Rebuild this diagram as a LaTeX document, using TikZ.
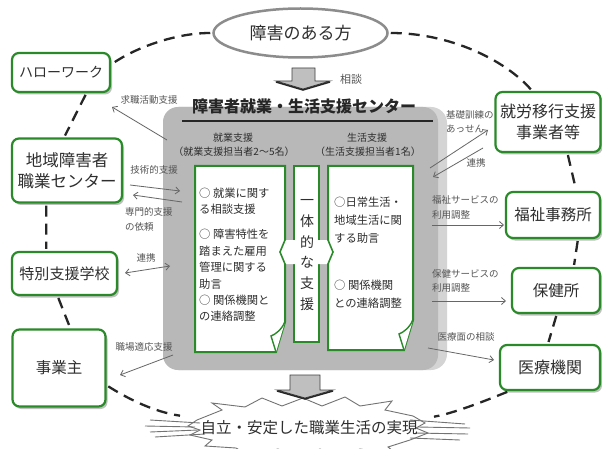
\documentclass[tikz,border=0pt]{standalone}
\usepackage{fontspec}
\setmainfont{Noto Sans CJK JP}
\usetikzlibrary{shapes.geometric,arrows.meta,shadows}
\definecolor{gbox}{HTML}{2A8A2A}
\definecolor{txt}{HTML}{2E2E2E}
\definecolor{lbl}{HTML}{555555}
\definecolor{panel}{HTML}{B8B8B8}
\definecolor{panellight}{HTML}{D4D4D4}
\definecolor{arr}{HTML}{666666}
\definecolor{ringc}{HTML}{8C8C8C}
\begin{document}
\begin{tikzpicture}[x=1pt,y=-1pt,
  orgbox/.style={draw=gbox,line width=2.2pt,rounded corners=7pt,fill=white,text=txt,align=center,inner sep=0pt,
    drop shadow={shadow xshift=2pt,shadow yshift=-2.5pt,fill=black!50,opacity=.5}},
  ring/.style={draw=black!85,line width=2.3pt,dash pattern=on 11pt off 7pt,shorten <=2pt,shorten >=2pt},
  flow/.style={draw=arr,line width=0.8pt,-{Straight Barb[length=4pt,width=7pt]}},
  flowtwo/.style={draw=arr,line width=0.8pt,{Straight Barb[length=4pt,width=7pt]}-{Straight Barb[length=4pt,width=7pt]}},
  lab/.style={text=lbl,font=\fontsize{9.5}{14.5}\selectfont,inner sep=0pt,align=left},
  head/.style={text=txt,font=\fontsize{10}{12}\selectfont,inner sep=0pt},
  inbox/.style={draw=gbox,line width=2pt,fill=white},
  flap/.style={draw=gbox,line width=1.4pt,fill=white},
  itemtxt/.style={text=txt,inner sep=0pt,align=left,anchor=west},
  blockarrow/.style={fill=black!25,draw=black!75,line width=0.8pt},
]
\useasboundingbox (0,0) rectangle (602,449);
\fill[white] (0,0) rectangle (602,449);

% central panel
\fill[panellight,rounded corners=16pt] (163,107) rectangle (447,370);
\fill[panel,rounded corners=15pt] (163,107) rectangle (438,370);

% title
\node[font=\fontsize{16}{18}\selectfont\bfseries,text=black!85,inner sep=0pt] (title) at (304,106.5) {障害者就業・生活支援センター};
\draw[line width=1.4pt,black!85] (182,121) -- (433,121);

% column headings
\node[head] (h1) at (233,138) {就業支援};
\node[head] (h1b) at (234,152) {（就業支援担当者2～5名）};
\node[head] (h2) at (367,138) {生活支援};
\node[head] (h2b) at (368,152) {（生活支援担当者1名）};

% left white box with folded corner
\draw[inbox] (195,166) -- (285,166) -- (285,322) -- (276,352) -- (195,352) -- cycle;
\draw[flap] (285,322) .. controls (281,330) and (276,334) .. (271,336) -- (276,352);
% right white box
\draw[inbox] (328,166) -- (413,166) -- (413,320) -- (404,350) -- (328,350) -- cycle;
\draw[flap] (413,320) .. controls (409,328) and (404,332) .. (399,334) -- (404,350);
% middle box with double arrow heads
\draw[inbox,line width=1.6pt] (294,166) rectangle (319,342);
\fill[white] (285,240) -- (280,252) -- (285,264) -- (328,264) -- (333,252) -- (328,240) -- cycle;
\draw[gbox,line width=1.6pt] (285,238) -- (285,240) -- (280,252) -- (285,264) -- (285,266);
\draw[gbox,line width=1.6pt] (328,238) -- (328,240) -- (333,252) -- (328,264) -- (328,266);
\node[text=txt,font=\fontsize{14}{20.8}\selectfont,align=center,inner sep=0pt] (ittai) at (307,255) {一\\体\\的\\な\\支\\援};

% box texts
\node[itemtxt,font=\fontsize{11.3}{16.5}\selectfont] (p1) at (199,201) {○ 就業に関す\\る相談支援};
\node[itemtxt,font=\fontsize{11.3}{16.5}\selectfont] (p2) at (199,259) {○ 障害特性を\\踏まえた雇用\\管理に関する\\助言};
\node[itemtxt,font=\fontsize{11.3}{16.5}\selectfont] (p3) at (199,308) {○ 関係機関と\\の連絡調整};
\node[itemtxt,font=\fontsize{11.3}{18}\selectfont] (q1) at (334,220) {○日常生活・\\地域生活に関\\する助言};
\node[itemtxt,font=\fontsize{11.3}{18}\selectfont] (q2) at (334,294) {○ 関係機関\\との連絡調整};

% outer organisations
\node[orgbox,minimum width=98pt,minimum height=39pt,font=\fontsize{14}{16}\selectfont] (hw) at (61,72.5) {ハローワーク};
\node[orgbox,minimum width=110pt,minimum height=64pt,font=\fontsize{16.5}{21}\selectfont] (chiiki) at (67,170.5) {地域障害者\\職業センター};
\node[orgbox,minimum width=105pt,minimum height=43pt,font=\fontsize{15}{17}\selectfont] (tokube) at (64.5,273.5) {特別支援学校};
\node[orgbox,minimum width=93pt,minimum height=77pt,font=\fontsize{15.5}{17}\selectfont] (jigyo) at (59,368) {事業主};
\node[orgbox,minimum width=105pt,minimum height=60pt,font=\fontsize{16}{21}\selectfont] (shuro) at (548,122) {就労移行支援\\事業者等};
\node[orgbox,minimum width=94pt,minimum height=46pt,font=\fontsize{15.5}{17}\selectfont] (fukushi) at (553,215) {福祉事務所};
\node[orgbox,minimum width=88pt,minimum height=45pt,font=\fontsize{15.5}{17}\selectfont] (hoken) at (556,290.5) {保健所};
\node[orgbox,minimum width=100pt,minimum height=45pt,font=\fontsize{16}{17}\selectfont] (iryo) at (550,367.5) {医療機関};

% top person ellipse
\node[ellipse,draw=ringc,line width=2.5pt,fill=white,minimum width=174pt,minimum height=49pt,inner sep=0pt,text=txt,font=\fontsize{17}{19}\selectfont] (top) at (300.5,33) {障害のある方};

% burst
\draw[draw=black!55,line width=0.9pt,fill=white]
  (197,420) -- (222,410) -- (212,403) -- (245,407) -- (262,398) -- (282,406) -- (303,398) -- (322,406) -- (345,397) -- (360,406) -- (392,401) -- (385,410) -- (413,416)
  -- (425,423) -- (416,428) -- (428,433)
  -- (410,440) -- (388,447) -- (398,455) -- (360,449) -- (340,458) -- (320,449) -- (300,458) -- (278,449) -- (250,456) -- (236,448) -- (205,446) -- (212,440)
  -- (190,435) -- (200,430) -- (188,426) -- cycle;
\draw[black!55,line width=0.9pt] (150,420) -- (200,423) (145,426) -- (195,427) (150,432) -- (198,430) (155,437) -- (205,434);
\draw[black!55,line width=0.9pt] (410,420) -- (465,424) (418,427) -- (470,428) (415,433) -- (468,434) (410,438) -- (460,440);
\node[text=txt,font=\fontsize{15.5}{17}\selectfont,inner sep=0pt] (goal) at (309,428) {自立・安定した職業生活の実現};
\coordinate (burstL) at (182,416);
\coordinate (burstR) at (432,417);

% block arrows
\filldraw[blockarrow] (292,68) -- (315,68) -- (315,81) -- (330,81) -- (303,89) -- (276,81) -- (292,81) -- cycle;
\draw[black!85,line width=1.5pt] (276,82) -- (303,90) -- (330,82);
\node[lab,font=\fontsize{11}{13}\selectfont] (sodan) at (351,79) {相談};
\filldraw[blockarrow] (290,375) -- (320,375) -- (320,390) -- (333,390) -- (305,398) -- (277,390) -- (290,390) -- cycle;
\draw[black!85,line width=1.5pt] (277,391) -- (305,399) -- (333,391);

% dashed ring
\draw[ring] (top.west) .. controls (175,33) and (135,48) .. (hw.9);
\draw[ring] (hw.-39) -- (chiiki.95);
\draw[ring] (chiiki.-122) -- (tokube.129);
\draw[ring] (tokube.-107) -- (jigyo.74);
\draw[ring] (jigyo.-20) .. controls (130,400) and (155,412) .. (burstL);
\draw[ring] (top.east) .. controls (450,33) and (505,60) .. (shuro.117);
\draw[ring] (shuro.-58) -- (fukushi.46);
\draw[ring] (fukushi.-44) -- (hoken.53);
\draw[ring] (hoken.-88) -- (iryo.95);
\draw[ring] (iryo.-150) .. controls (475,405) and (450,414) .. (burstR);

% arrow end points
\coordinate (a1s) at (167,140); \coordinate (a1e) at (112,107);
\coordinate (a2s) at (130,185); \coordinate (a2e) at (180,191);
\coordinate (a3s) at (182,202); \coordinate (a3e) at (133,195);
\coordinate (a4s) at (125,273); \coordinate (a4e) at (170,266);
\coordinate (a5s) at (173,355); \coordinate (a5e) at (120,375);
\coordinate (a6s) at (430,168); \coordinate (a6e) at (488,130);
\coordinate (a7s) at (483,148); \coordinate (a7e) at (433,177);
\coordinate (a8s) at (432,225); \coordinate (a8e) at (504,225);
\coordinate (a9s) at (432,301); \coordinate (a9e) at (506,301);
\coordinate (a10s) at (428,348); \coordinate (a10e) at (494,360);
\draw[flow] (a1s) -- (a1e);
\draw[flow] (a2s) -- (a2e);
\draw[flow] (a3s) -- (a3e);
\draw[flowtwo] (a4s) -- (a4e);
\draw[flow] (a5s) -- (a5e);
\draw[flow] (a6s) -- (a6e);
\draw[flow] (a7s) -- (a7e);
\draw[flow] (a8s) -- (a8e);
\draw[flow] (a9s) -- (a9e);
\draw[flow] (a10s) -- (a10e);

% arrow labels
\node[lab] (l1) at (149,100) {求職活動支援};
\node[lab] (l2) at (154,170) {技術的支援};
\node[lab,anchor=west] (l3) at (125,219.5) {専門的支援\\の依頼};
\node[lab] (l4) at (146,258) {連携};
\node[lab] (l5) at (144,347) {職場適応支援};
\node[lab,anchor=west] (l6) at (446,121.5) {基礎訓練の\\あっせん};
\node[lab] (l7) at (476,163) {連携};
\node[lab,anchor=west] (l8) at (432,207.5) {福祉サービスの\\利用調整};
\node[lab,anchor=west] (l9) at (432,281) {保健サービスの\\利用調整};
\node[lab] (l10) at (466,337) {医療面の相談};
\end{tikzpicture}
\end{document}
